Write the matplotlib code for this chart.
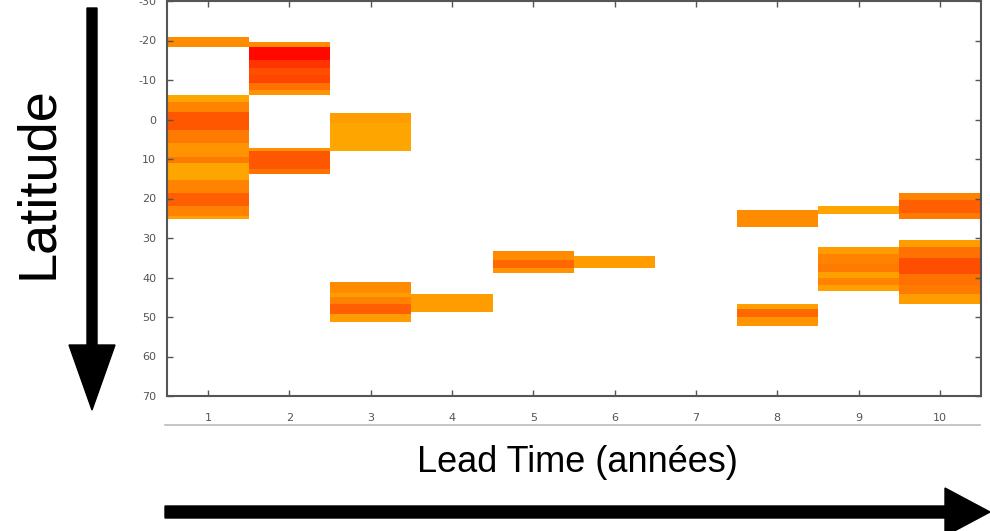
import matplotlib
matplotlib.use("Agg")
import matplotlib.pyplot as plt
import matplotlib.patches as mpatches
from matplotlib.colors import LinearSegmentedColormap
from matplotlib.lines import Line2D
from matplotlib.transforms import IdentityTransform

# lead time (years) of each colored stripe, its latitude extent and its value (0 = light orange, 1 = red)
seg_lead = [1, 1, 1, 1, 1, 1, 1, 1, 1, 1, 1, 1,
            2, 2, 2, 2, 2, 2, 2, 2, 2, 2,
            3, 3, 3, 3, 3, 3, 3,
            4,
            5, 5, 5,
            6,
            8, 8, 8, 8,
            9, 9, 9, 9, 9, 9, 9,
            10, 10, 10, 10, 10, 10, 10, 10, 10]
seg_top = [-20.9, -6.3, -4.5, -2.0, 2.6, 5.9, 9.4, 11.0, 15.2, 18.5, 22.0, 24.5,
           -19.6, -18.4, -15.0, -13.0, -11.3, -9.3, -7.5, 7.1, 8.0, 12.5,
           -1.7, 1.0, 41.2, 43.8, 45.0, 46.8, 49.3,
           44.2,
           33.4, 35.5, 37.5,
           34.6,
           22.8, 46.8, 48.0, 50.0,
           22.0, 32.4, 34.0, 36.5, 38.5, 40.0, 41.8,
           18.5, 20.3, 23.6, 30.4, 32.2, 35.0, 39.2, 41.8, 44.3]
seg_bottom = [-18.4, -4.5, -2.0, 2.6, 5.9, 9.4, 11.0, 15.2, 18.5, 22.0, 24.5, 25.3,
              -18.4, -15.0, -13.0, -11.3, -9.3, -7.5, -6.3, 8.0, 12.5, 13.9,
              1.0, 8.1, 43.8, 45.0, 46.8, 49.3, 51.3,
              48.8,
              35.5, 37.5, 38.9,
              37.7,
              27.3, 48.0, 50.0, 52.3,
              24.0, 34.0, 36.5, 38.5, 40.0, 41.8, 43.5,
              20.3, 23.6, 25.3, 32.2, 35.0, 39.2, 41.8, 44.3, 46.8]
seg_value = [0.2, 0.05, 0.25, 0.5, 0.3, 0.15, 0.3, 0.05, 0.25, 0.45, 0.25, 0.08,
             0.2, 0.95, 0.7, 0.55, 0.6, 0.35, 0.15, 0.15, 0.5, 0.35,
             0.1, 0.05, 0.2, 0.1, 0.25, 0.45, 0.1,
             0.1,
             0.2, 0.4, 0.15,
             0.1,
             0.2, 0.08, 0.4, 0.15,
             0.05, 0.1, 0.25, 0.3, 0.08, 0.25, 0.08,
             0.25, 0.45, 0.3, 0.1, 0.35, 0.55, 0.35, 0.3, 0.1]

lead_ticks = list(range(1, 11))
lat_ticks = list(range(-30, 71, 10))

plt.rcParams['axes.unicode_minus'] = False

W, H = 990, 531
fig = plt.figure(figsize=(W / 100, H / 100), dpi=100)
ax = fig.add_axes([167.4 / W, 1 - 396 / H, 813.2 / W, 395 / H])

cmap = LinearSegmentedColormap.from_list("orange_red", [(1, 0.68, 0), (1, 0, 0)])

for lead, top, bottom, val in zip(seg_lead, seg_top, seg_bottom, seg_value):
    ax.bar(lead, bottom - top, bottom=top, width=1.0, color=cmap(val),
           linewidth=0, antialiased=False)

ax.set_xlim(0.5, 10.5)
ax.set_ylim(70, -30)
ax.set_xticks(lead_ticks)
ax.set_yticks(lat_ticks)
ax.tick_params(direction="in", length=4, width=1, colors="#555555",
               labelsize=8, top=True, right=True, pad=8)
ax.tick_params(axis="x", pad=12)
for side in ["left", "bottom", "right", "top"]:
    ax.spines[side].set_color("#555555")
    ax.spines[side].set_linewidth(1.5)

# thin grey separator under the tick labels
fig.add_artist(Line2D([165 / W, 980 / W], [1 - 425 / H, 1 - 425 / H],
                      transform=fig.transFigure, color="#bbbbbb", lw=1.2))

fig.text(577 / W, 1 - 462 / H, "Lead Time (années)", ha="center", va="center",
         fontsize=26, family="Liberation Sans")
fig.text(38 / W, 1 - 183 / H, "Latitude", ha="center", va="center",
         rotation=90, fontsize=39, family="Liberation Sans")

# big black arrows
idt = IdentityTransform()
fig.add_artist(mpatches.FancyArrow(92, H - 8, 0, -402, width=10, head_width=46,
                                   head_length=65, length_includes_head=True,
                                   color="black", transform=idt))
fig.add_artist(mpatches.FancyArrow(165, H - 512, 825, 0, width=12, head_width=48,
                                   head_length=45, length_includes_head=True,
                                   color="black", transform=idt))

fig.savefig("out.png", dpi=100)
